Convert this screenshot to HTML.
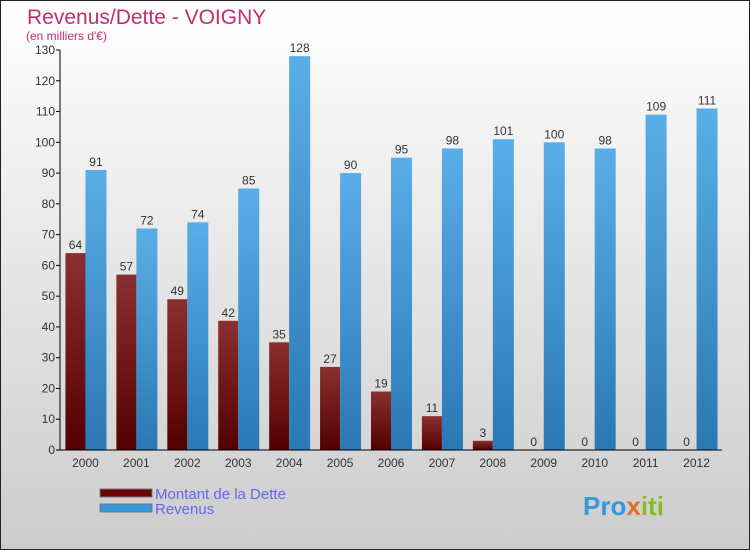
<!DOCTYPE html>
<html><head><meta charset="utf-8"><style>
body{margin:0}
svg{display:block;font-family:"Liberation Sans","DejaVu Sans",sans-serif}
</style></head><body>
<svg id="chart" width="750" height="550" xmlns="http://www.w3.org/2000/svg">
<defs>
<linearGradient id="bg" x1="0" y1="0" x2="0" y2="1"><stop offset="0" stop-color="#ffffff"/><stop offset="1" stop-color="#cccccc"/></linearGradient>
<linearGradient id="gd" x1="0" y1="0" x2="0" y2="1"><stop offset="0" stop-color="#8a3030"/><stop offset="1" stop-color="#540000"/></linearGradient>
<linearGradient id="gr" x1="0" y1="0" x2="0" y2="1"><stop offset="0" stop-color="#5aaee8"/><stop offset="1" stop-color="#2a78b4"/></linearGradient>
</defs>
<rect x="0.5" y="0.5" width="749" height="549" fill="url(#bg)" stroke="#222"/>
<text x="27" y="24" font-size="21" fill="#c0306a">Revenus/Dette - VOIGNY</text>
<text x="26" y="40" font-size="12" fill="#c0306a">(en milliers d'€)</text>
<g id="marks"></g>
<g>
<rect x="100" y="489" width="52" height="8" fill="#6a0000" stroke="#777"/>
<rect x="100" y="504" width="52" height="8" fill="#3399dd" stroke="#777"/>
<text x="155" y="499" font-size="15" fill="#6666ee">Montant de la Dette</text>
<text x="155" y="514" font-size="15" fill="#6666ee">Revenus</text>
</g>
<text x="583" y="515" font-size="26" font-weight="bold" fill="#3399dd">Pro<tspan fill="#e07020">x</tspan><tspan fill="#88bb22">iti</tspan></text>
</svg>
<script>
const years=["2000","2001","2002","2003","2004","2005","2006","2007","2008","2009","2010","2011","2012"];
const dette=[64,57,49,42,35,27,19,11,3,0,0,0,0];
const revenus=[91,72,74,85,128,90,95,98,101,100,98,109,111];
const yTicks=[0,10,20,30,40,50,60,70,80,90,100,110,120,130];
const NS="http://www.w3.org/2000/svg";
const g=document.getElementById('marks');
const x0=60,x1=722,yb=450,yt=50,ymax=130;
const bw=(x1-x0)/years.length;
const y=v=>yb-(v/ymax)*(yb-yt);
function el(t,a,txt){const e=document.createElementNS(NS,t);for(const k in a)e.setAttribute(k,a[k]);if(txt!==undefined)e.textContent=txt;g.appendChild(e);return e;}
yTicks.forEach(t=>{
 const l=el('line',{x1:x0-4,x2:x0,y1:y(t),y2:y(t),stroke:'#000'});
 
 
 const tx=el('text',{x:x0-5,y:y(t)+4,'font-size':12,fill:'#333','text-anchor':'end'},t);
 
 
});
years.forEach((yr,i)=>{
 const c=x0+bw*(i+0.5);
 const d=el('rect',{x:c-20,y:y(dette[i]),width:20,height:yb-y(dette[i]),fill:'url(#gd)'});
 
 
 const r=el('rect',{x:c,y:y(revenus[i]),width:21,height:yb-y(revenus[i]),fill:'url(#gr)'});
 
 
 const dl=el('text',{x:c-10,y:y(dette[i])-4,'font-size':12,fill:'#333','text-anchor':'middle'},dette[i]);
 
 
 const rl=el('text',{x:c+10.5,y:y(revenus[i])-4,'font-size':12,fill:'#333','text-anchor':'middle'},revenus[i]);
 
 
 const xl=el('text',{x:c,y:467,'font-size':12,fill:'#333','text-anchor':'middle'},yr);
 
 
});
const ya=el('line',{x1:x0,x2:x0,y1:yt,y2:yb,stroke:'#000'});


const xa=el('line',{x1:x0,x2:x1,y1:yb,y2:yb,stroke:'#000'});


</script>
</body></html>
